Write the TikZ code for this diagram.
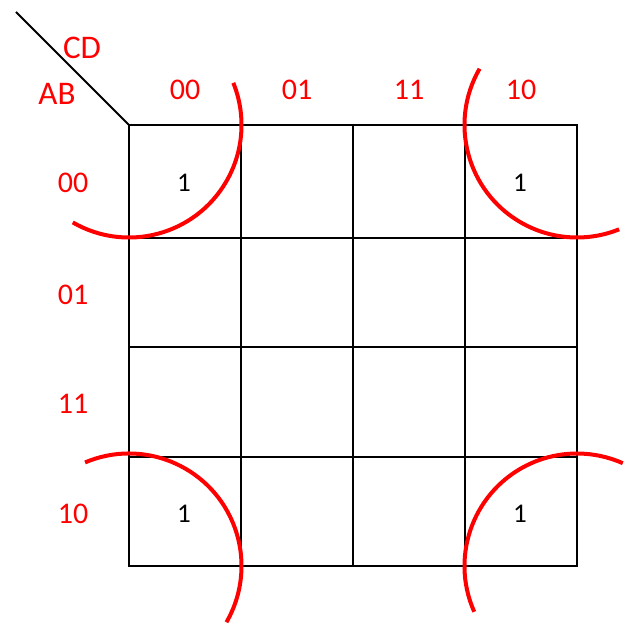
\documentclass[tikz,border=0pt]{standalone}
\usepackage{fontspec}
\setmainfont{Carlito}
\definecolor{kred}{RGB}{255,0,0}
\begin{document}
\begin{tikzpicture}[x=1pt,y=1pt,
  gridline/.style={draw=black,line width=2pt},
  loop/.style={draw=kred,line width=4pt},
  lab/.style={text=kred,font=\fontsize{30}{30}\selectfont,inner sep=0pt},
  vlab/.style={text=kred,font=\fontsize{33}{33}\selectfont,inner sep=0pt},
  one/.style={text=black,font=\fontsize{27}{27}\selectfont,inner sep=0pt}]
\useasboundingbox (0,0) rectangle (625,626);
% grid corners
\coordinate (tl) at (129,501);
\coordinate (tr) at (577,501);
\coordinate (bl) at (129,60);
\coordinate (br) at (577,60);
\coordinate (diag) at (16,614);
% grid
\draw[gridline] (tl) rectangle (br);
\foreach \x in {241,353,465} \draw[gridline] (\x,501) -- (\x,60);
\foreach \y in {388,279,169} \draw[gridline] (129,\y) -- (577,\y);
\draw[gridline] (diag) -- (tl);
% labels
\node[vlab] (cd) at (82,578) {CD};
\node[vlab] (ab) at (57,532) {AB};
\node[lab] (c00) at (185,536) {00};
\node[lab] (c01) at (297,536) {01};
\node[lab] (c11) at (409,536) {11};
\node[lab] (c10) at (521,536) {10};
\node[lab] (r00) at (73,443) {00};
\node[lab] (r01) at (73,331) {01};
\node[lab] (r11) at (73,222) {11};
\node[lab] (r10) at (73,112) {10};
\node[one] (m0) at (184,443) {1};
\node[one] (m2) at (520,443) {1};
\node[one] (m8) at (184,112) {1};
\node[one] (m10) at (520,112) {1};
% loops
\draw[loop] (tl) ++(240:112.5) arc[start angle=240,end angle=382,radius=112.5];
\draw[loop] (tr) ++(150:112.5) arc[start angle=150,end angle=292,radius=112.5];
\draw[loop] (bl) ++(113:112.5) arc[start angle=113,end angle=-30,radius=112.5];
\draw[loop] (br) ++(204:112.5) arc[start angle=204,end angle=66,radius=112.5];
\end{tikzpicture}
\end{document}
